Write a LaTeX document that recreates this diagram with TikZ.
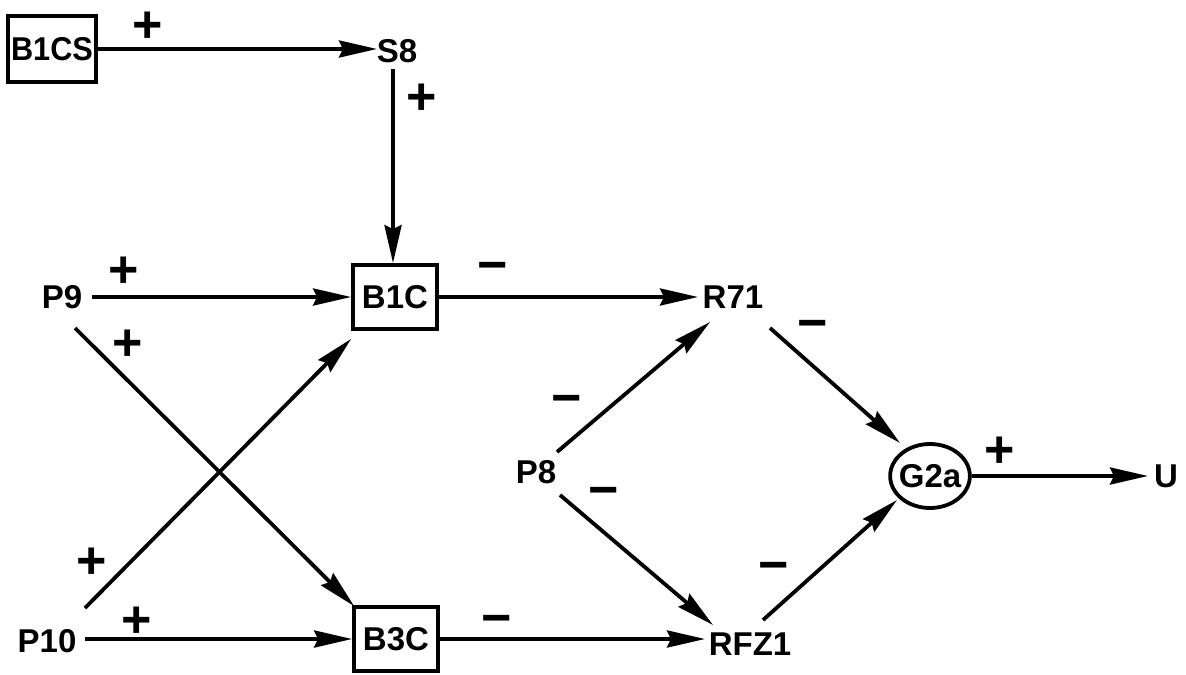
\documentclass[tikz,border=0pt]{standalone}
\usepackage{fontspec}
\setmainfont{Liberation Sans}
\usetikzlibrary{arrows.meta,calc,shapes.geometric}
\begin{document}
\begin{tikzpicture}[x=0.5pt,y=-0.5pt,
  lbl/.style={font=\fontsize{16.5}{18}\selectfont\bfseries, inner sep=0pt},
  boxnode/.style={lbl, draw, line width=1.9pt, minimum width=42pt, minimum height=32pt},
  sgn/.style={font=\fontsize{26}{26}\selectfont\bfseries, inner sep=0pt},
  arr/.style={line width=1.9pt, -{Stealth[length=19pt,width=8.5pt,inset=2pt]}},
]
\useasboundingbox (0,0) rectangle (1186,674);
% nodes
\node[boxnode, minimum width=44pt, minimum height=33pt] (b1cs) at (52,49) {\scalebox{0.93}[1]{B1CS}};
\node[lbl] (s8) at (397,51) {S8};
\node[boxnode] (b1c) at (395,297) {B1C};
\node[boxnode] (b3c) at (396,639) {B3C};
\node[lbl] (p9) at (62,297) {P9};
\node[lbl] (p10) at (47,641) {P10};
\node[lbl] (p8) at (536,472) {P8};
\node[lbl] (r71) at (733,297) {R71};
\node[lbl] (rfz1) at (750,644) {RFZ1};
\node[lbl, draw, ellipse, line width=1.9pt, inner xsep=-1.5pt, inner ysep=0pt, minimum width=36pt, minimum height=32pt] (g2a) at (930,476) {G2a};
\node[lbl] (u) at (1166,476) {U};
% connectors
\draw[arr] (b1cs.east) -- ($(s8)+(-20,-2)$);
\draw[arr] ($(s8)+(-4,18)$) -- ($(b1c.north)+(-2,0)$);
\draw[arr] ($(p9)+(30,0)$) -- (b1c.west);
\draw[arr] ($(p9)+(13,31)$) -- ($(b3c.north west)+(2,1)$);
\draw[arr] ($(p10)+(38,-33)$) -- ($(b1c.south west)+(0,8)$);
\draw[arr] ($(p10)+(38,-2)$) -- (b3c.west);
\draw[arr] (b1c.east) -- ($(r71)+(-35,0)$);
\draw[arr] (b3c.east) -- ($(rfz1)+(-45,-5)$);
\draw[arr] ($(p8)+(21,-20)$) -- ($(r71)+(-23,25)$);
\draw[arr] ($(p8)+(24,23)$) -- ($(rfz1)+(-37,-19)$);
\draw[arr] ($(r71)+(37,31)$) -- ($(g2a)+(-30,-33)$);
\draw[arr] ($(rfz1)+(13,-24)$) -- ($(g2a)+(-33,24)$);
\draw[arr] (g2a.east) -- ($(u)+(-18,0)$);
% signs
\node[sgn] (sa) at (148,27) {+};
\node[sgn] (sb) at (422,99) {+};
\node[sgn] (sc) at (124,272) {+};
\node[sgn] (sd) at (128,345) {+};
\node[sgn] (se) at (92,563) {+};
\node[sgn] (sf) at (137,622) {+};
\node[sgn] (sg) at (493,272) {−};
\node[sgn] (sh) at (497,625) {−};
\node[sgn] (si) at (567,405) {−};
\node[sgn] (sj) at (604,497) {−};
\node[sgn] (sk) at (813,330) {−};
\node[sgn] (sl) at (774,572) {−};
\node[sgn] (sm) at (1000,452) {+};
\end{tikzpicture}
\end{document}
